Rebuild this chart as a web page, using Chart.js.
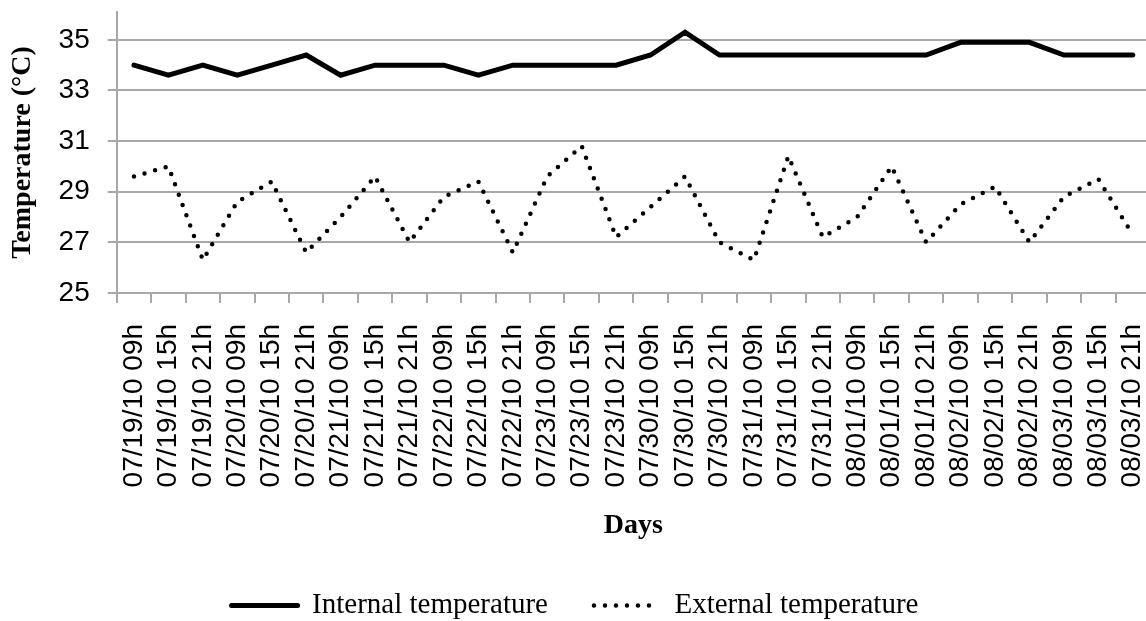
<!DOCTYPE html>
<html lang="en">
<head>
<meta charset="utf-8">
<title>Temperatura interna y externa</title>
<script src="https://cdn.jsdelivr.net/npm/chart.js@4.4.1/dist/chart.umd.min.js"></script>
<style>
    html, body { margin: 0; padding: 0; background: #fff; overflow: hidden; }
    #contenedor-grafico { width: 1152px; height: 621px; }
</style>
</head>
<body>
<div id="contenedor-grafico"><canvas id="grafico-temperatura"></canvas></div>
<script>
// Etiquetas del eje X (día y hora de cada medición)
const etiquetas = [
    '07/19/10 09h', '07/19/10 15h', '07/19/10 21h',
    '07/20/10 09h', '07/20/10 15h', '07/20/10 21h',
    '07/21/10 09h', '07/21/10 15h', '07/21/10 21h',
    '07/22/10 09h', '07/22/10 15h', '07/22/10 21h',
    '07/23/10 09h', '07/23/10 15h', '07/23/10 21h',
    '07/30/10 09h', '07/30/10 15h', '07/30/10 21h',
    '07/31/10 09h', '07/31/10 15h', '07/31/10 21h',
    '08/01/10 09h', '08/01/10 15h', '08/01/10 21h',
    '08/02/10 09h', '08/02/10 15h', '08/02/10 21h',
    '08/03/10 09h', '08/03/10 15h', '08/03/10 21h'
];

// Temperatura interna (ºC)
const temperaturaInterna = [
    34.0, 33.6, 34.0, 33.6, 34.0, 34.4, 33.6, 34.0, 34.0, 34.0,
    33.6, 34.0, 34.0, 34.0, 34.0, 34.4, 35.3, 34.4, 34.4, 34.4,
    34.4, 34.4, 34.4, 34.4, 34.9, 34.9, 34.9, 34.4, 34.4, 34.4
];

// Temperatura externa (ºC)
const temperaturaExterna = [
    29.6, 30.0, 26.3, 28.6, 29.4, 26.6, 28.0, 29.6, 27.0, 28.8,
    29.4, 26.6, 29.6, 30.8, 27.2, 28.4, 29.6, 27.0, 26.3, 30.4,
    27.2, 28.0, 30.0, 27.0, 28.5, 29.2, 27.0, 28.8, 29.5, 27.3
];

// Marcas del eje Y
const marcasY = [25, 27, 29, 31, 33, 35];

document.addEventListener('DOMContentLoaded', function() {
    const ctx = document.getElementById('grafico-temperatura').getContext('2d');
    const fuenteSerif = 'Liberation Serif';
    const fuenteSans = 'Liberation Sans';
    const gris = '#a8a8a8';

    // La leyenda con pointStyle no copia el trazo punteado del dataset
    function generarEtiquetas(chart) {
        const items = Chart.defaults.plugins.legend.labels.generateLabels(chart);
        items.forEach(function(item) {
            const ds = chart.data.datasets[item.datasetIndex];
            item.lineDash = ds.borderDash || [];
            item.lineCap = ds.borderCapStyle;
            item.lineWidth = ds.borderWidth;
        });
        return items;
    }

    new Chart(ctx, {
        type: 'line',
        data: {
            labels: etiquetas,
            datasets: [
                {
                    label: 'Internal temperature',
                    data: temperaturaInterna,
                    borderColor: '#000',
                    backgroundColor: '#000',
                    borderWidth: 5,
                    borderCapStyle: 'round',
                    pointRadius: 0,
                    tension: 0
                },
                {
                    label: 'External temperature',
                    data: temperaturaExterna,
                    borderColor: '#000',
                    backgroundColor: '#000',
                    borderWidth: 4.5,
                    borderDash: [0, 11],
                    borderCapStyle: 'round',
                    pointRadius: 0,
                    tension: 0
                }
            ]
        },
        options: {
            responsive: true,
            maintainAspectRatio: false,
            animation: false,
            layout: {
                padding: { top: 12, right: 2, bottom: 0, left: 0 }
            },
            plugins: {
                tooltip: { enabled: false },
                legend: {
                    position: 'bottom',
                    maxHeight: 76,
                    labels: {
                        usePointStyle: true,
                        pointStyle: 'line',
                        pointStyleWidth: 66,
                        padding: 46,
                        color: '#000',
                        font: { family: fuenteSerif, size: 29 },
                        generateLabels: generarEtiquetas
                    }
                }
            },
            scales: {
                x: {
                    offset: true,
                    afterFit: function(eje) {
                        eje.paddingLeft = 0;
                        eje.paddingRight = 0;
                    },
                    grid: {
                        offset: true,
                        drawOnChartArea: false,
                        drawTicks: true,
                        tickLength: 10,
                        color: gris,
                        lineWidth: 2
                    },
                    border: { color: gris, width: 2 },
                    ticks: {
                        autoSkip: false,
                        minRotation: 90,
                        maxRotation: 90,
                        padding: 21,
                        color: '#000',
                        font: { family: fuenteSans, size: 28 }
                    },
                    title: {
                        display: true,
                        text: 'Days',
                        color: '#000',
                        font: { family: fuenteSerif, size: 28, weight: 'bold' },
                        padding: { top: 1, bottom: 2 }
                    }
                },
                y: {
                    min: 25,
                    max: 36.1,
                    afterBuildTicks: function(eje) {
                        eje.ticks = marcasY.map(v => ({ value: v }));
                    },
                    afterFit: function(eje) {
                        eje.paddingTop = 0;
                        eje.paddingBottom = 0;
                    },
                    grid: {
                        color: gris,
                        lineWidth: 2,
                        tickLength: 9
                    },
                    border: { color: gris, width: 2 },
                    ticks: {
                        padding: 18,
                        color: '#000',
                        font: { family: fuenteSans, size: 28 }
                    },
                    title: {
                        display: true,
                        text: 'Temperature (°C)',
                        color: '#000',
                        font: { family: fuenteSerif, size: 28, weight: 'bold' },
                        padding: { top: 6, bottom: 1 }
                    }
                }
            }
        }
    });
});
</script>
</body>
</html>
